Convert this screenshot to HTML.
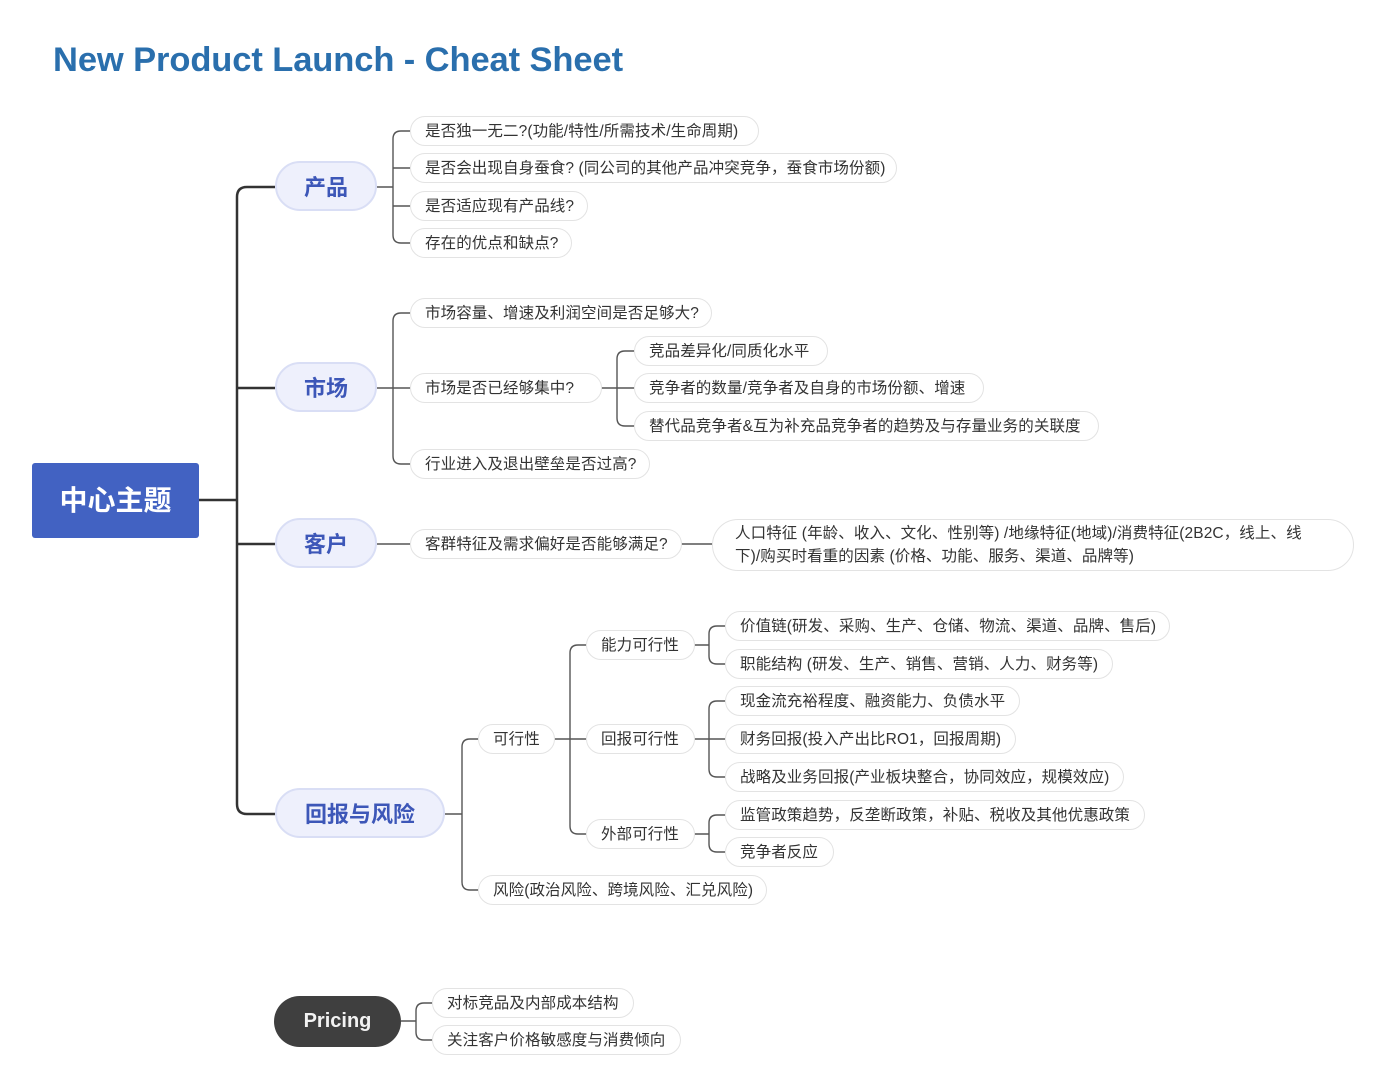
<!DOCTYPE html>
<html><head><meta charset="utf-8">
<style>
body{margin:0;width:1377px;height:1080px;background:#fff;position:relative;overflow:hidden;font-family:"Liberation Sans","Noto Sans CJK SC",sans-serif;}
.t{position:absolute;left:53px;top:41px;font-size:34.5px;font-weight:bold;color:#2a6fad;white-space:nowrap;letter-spacing:-0.1px}
.p{position:absolute;height:28px;line-height:30px;border:1px solid #e3e3e3;border-radius:15px;background:#fff;font-size:15.5px;color:#333;padding-left:14px;box-sizing:content-box;white-space:nowrap;letter-spacing:0.1px}
.l1{position:absolute;height:50px;line-height:50px;border:2px solid #d9def5;border-radius:27px;background:#eef0fc;color:#3d57b8;font-size:22px;font-weight:bold;text-align:center;box-sizing:border-box}
svg{position:absolute;left:0;top:0}
</style></head><body>
<div class="t">New Product Launch - Cheat Sheet</div>
<svg width="1377" height="1080" fill="none">
<g stroke="#333" stroke-width="2.5">
<path d="M199 500 H237 M275 187 H247 Q237 187 237 197 V804 Q237 814 247 814 H275 M237 388 H275 M237 544 H275"/>
</g>
<g stroke="#555" stroke-width="1.4">
<path d="M377 187 H393 M410 131 H401 Q393 131 393 139 V235 Q393 243 401 243 H410 M393 168 H410 M393 206 H410"/>
<path d="M377 388 H410 M410 313 H401 Q393 313 393 321 V456 Q393 464 401 464 H410"/>
<path d="M600 388 H634 M634 351 H625 Q617 351 617 359 V418 Q617 426 625 426 H634"/>
<path d="M377 544 H410 M680 544 H712"/>
<path d="M445 814 H462 M478 739 H470 Q462 739 462 747 V882 Q462 890 470 890 H478"/>
<path d="M553 739 H586 M586 645 H578 Q570 645 570 653 V826 Q570 834 578 834 H586"/>
<path d="M693 645 H709 M725 626 H717 Q709 626 709 634 V656 Q709 664 717 664 H725"/>
<path d="M693 739 H725 M725 701 H717 Q709 701 709 709 V769 Q709 777 717 777 H725"/>
<path d="M693 834 H709 M725 815 H717 Q709 815 709 823 V844 Q709 852 717 852 H725"/>
<path d="M401 1021 H416 M432 1003 H424 Q416 1003 416 1011 V1032 Q416 1040 424 1040 H432"/>
</g>
</svg>
<div style="position:absolute;left:32px;top:463px;width:167px;height:75px;background:#4262c2;border-radius:3px;color:#fff;font-size:28px;font-weight:bold;line-height:75px;text-align:center">中心主题</div>
<div class="l1" style="left:275px;top:161px;width:102px">产品</div>
<div class="l1" style="left:275px;top:362px;width:102px">市场</div>
<div class="l1" style="left:275px;top:518px;width:102px">客户</div>
<div class="l1" style="left:275px;top:788px;width:170px">回报与风险</div>
<div style="position:absolute;left:274px;top:996px;width:127px;height:51px;border-radius:26px;background:#3f3f3f;color:#f2f2f2;font-size:20px;font-weight:bold;line-height:51px;text-align:center">Pricing</div>

<div class="p" style="left:410px;top:116px;width:333px">是否独一无二?(功能/特性/所需技术/生命周期)</div>
<div class="p" style="left:410px;top:153px;width:471px">是否会出现自身蚕食? (同公司的其他产品冲突竞争，蚕食市场份额)</div>
<div class="p" style="left:410px;top:191px;width:162px">是否适应现有产品线?</div>
<div class="p" style="left:410px;top:228px;width:146px">存在的优点和缺点?</div>

<div class="p" style="left:410px;top:298px;width:286px">市场容量、增速及利润空间是否足够大?</div>
<div class="p" style="left:410px;top:373px;width:176px">市场是否已经够集中?</div>
<div class="p" style="left:410px;top:449px;width:224px">行业进入及退出壁垒是否过高?</div>
<div class="p" style="left:634px;top:336px;width:178px">竞品差异化/同质化水平</div>
<div class="p" style="left:634px;top:373px;width:334px">竞争者的数量/竞争者及自身的市场份额、增速</div>
<div class="p" style="left:634px;top:411px;width:449px">替代品竞争者&amp;互为补充品竞争者的趋势及与存量业务的关联度</div>

<div class="p" style="left:410px;top:529px;width:256px">客群特征及需求偏好是否能够满足?</div>
<div class="p" style="left:712px;top:519px;width:618px;height:48px;line-height:23px;padding-top:2px;padding-left:22px;border-radius:26px">人口特征 (年龄、收入、文化、性别等) /地缘特征(地域)/消费特征(2B2C，线上、线<br>下)/购买时看重的因素 (价格、功能、服务、渠道、品牌等)</div>

<div class="p" style="left:478px;top:724px;width:61px">可行性</div>
<div class="p" style="left:478px;top:875px;width:273px">风险(政治风险、跨境风险、汇兑风险)</div>
<div class="p" style="left:586px;top:630px;width:93px">能力可行性</div>
<div class="p" style="left:586px;top:724px;width:93px">回报可行性</div>
<div class="p" style="left:586px;top:819px;width:93px">外部可行性</div>
<div class="p" style="left:725px;top:611px;width:429px">价值链(研发、采购、生产、仓储、物流、渠道、品牌、售后)</div>
<div class="p" style="left:725px;top:649px;width:372px">职能结构 (研发、生产、销售、营销、人力、财务等)</div>
<div class="p" style="left:725px;top:686px;width:279px">现金流充裕程度、融资能力、负债水平</div>
<div class="p" style="left:725px;top:724px;width:275px">财务回报(投入产出比RO1，回报周期)</div>
<div class="p" style="left:725px;top:762px;width:383px">战略及业务回报(产业板块整合，协同效应，规模效应)</div>
<div class="p" style="left:725px;top:800px;width:404px">监管政策趋势，反垄断政策，补贴、税收及其他优惠政策</div>
<div class="p" style="left:725px;top:837px;width:93px">竞争者反应</div>

<div class="p" style="left:432px;top:988px;width:186px">对标竞品及内部成本结构</div>
<div class="p" style="left:432px;top:1025px;width:233px">关注客户价格敏感度与消费倾向</div>
</body></html>
